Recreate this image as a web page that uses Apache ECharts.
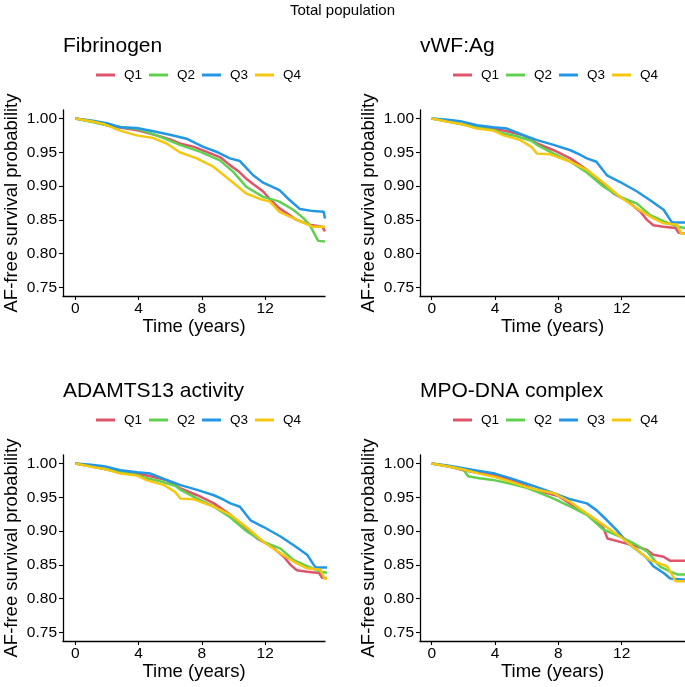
<!DOCTYPE html>
<html>
<head>
<meta charset="utf-8">
<script src="https://cdn.jsdelivr.net/npm/echarts@6/dist/echarts.min.js"></script>
<style>
  html, body { margin: 0; padding: 0; background: #fff; }
  #chart { width: 685px; height: 687px; }
</style>
</head>
<body>
<div id="chart"></div>
<script>
// ---------- DATA ----------
const mainTitle = "Total population";
const panelTitles = ["Fibrinogen", "vWF:Ag", "ADAMTS13 activity", "MPO-DNA complex"];
const groups = ["Q1", "Q2", "Q3", "Q4"];
const xTicks = [0, 4, 8, 12];
const yTicks = [0.75, 0.80, 0.85, 0.90, 0.95, 1.00];

// Fibrinogen  [time (years), survival]
const fib_Q1 = [[0,1],[1,0.996],[2,0.99],[3,0.986],[4,0.982],[5,0.976],[6,0.969],[6.6,0.963],[7.5,0.958],[8.7,0.947],[9.2,0.942],[9.77,0.931],[10.3,0.922],[10.8,0.911],[11.3,0.902],[11.87,0.892],[12.4,0.878],[12.9,0.867],[13.56,0.857],[13.98,0.85],[14.8,0.843],[15.6,0.84],[15.78,0.833]];
const fib_Q2 = [[0,1],[1,0.995],[2,0.99],[3,0.987],[4,0.984],[5,0.976],[6,0.967],[6.6,0.961],[7.87,0.951],[9.14,0.938],[9.98,0.921],[10.4,0.91],[10.8,0.899],[11.87,0.884],[12.9,0.877],[13.77,0.865],[14.4,0.853],[14.8,0.843],[15.1,0.83],[15.35,0.819],[15.78,0.818]];
const fib_Q3 = [[0,1],[1,0.997],[2,0.993],[2.82,0.987],[3.87,0.986],[4.93,0.981],[5.98,0.976],[7.03,0.97],[8.08,0.958],[9.0,0.95],[9.77,0.941],[10.4,0.937],[10.8,0.927],[11.24,0.916],[11.87,0.905],[12.9,0.894],[13.56,0.879],[14.2,0.866],[15.03,0.863],[15.7,0.862],[15.78,0.852]];
const fib_Q4 = [[0,1],[1,0.996],[1.77,0.992],[2.82,0.982],[3.87,0.975],[4.93,0.971],[5.77,0.963],[6.6,0.95],[7.67,0.941],[8.7,0.929],[9.77,0.909],[10.8,0.889],[11.66,0.881],[12.3,0.877],[12.9,0.862],[13.35,0.857],[14.2,0.848],[15.0,0.84],[15.78,0.84]];

// vWF:Ag
const vwf_Q1 = [[0,1],[1,0.996],[2,0.991],[2.86,0.987],[3.9,0.985],[4.75,0.981],[5.8,0.975],[6.65,0.963],[7.7,0.953],[8.76,0.941],[9.8,0.924],[10.86,0.902],[11.5,0.889],[12.3,0.879],[13.18,0.862],[13.6,0.85],[14.0,0.842],[14.65,0.84],[15.4,0.838],[15.6,0.831],[16,0.83]];
const vwf_Q2 = [[0,1],[1,0.996],[2,0.991],[2.86,0.987],[3.9,0.983],[4.5,0.978],[5.3,0.974],[6.3,0.967],[6.65,0.961],[7.7,0.948],[8.76,0.936],[9.8,0.92],[10.86,0.899],[11.9,0.884],[12.97,0.874],[13.8,0.857],[14.65,0.848],[15.5,0.84],[16,0.838]];
const vwf_Q3 = [[0,1],[1,0.998],[1.81,0.996],[2.86,0.99],[3.9,0.987],[4.75,0.985],[5.6,0.977],[6.65,0.968],[7.7,0.961],[8.76,0.953],[9.4,0.946],[9.8,0.941],[10.4,0.936],[11.07,0.916],[11.9,0.906],[12.97,0.892],[13.8,0.879],[14.65,0.865],[15.07,0.85],[15.2,0.846],[16,0.846]];
const vwf_Q4 = [[0,1],[1,0.995],[1.81,0.992],[2.86,0.985],[3.9,0.982],[4.54,0.975],[5.6,0.968],[6.3,0.958],[6.65,0.948],[7.5,0.947],[8.76,0.936],[9.8,0.924],[10.86,0.905],[11.9,0.884],[12.97,0.867],[13.8,0.855],[14.65,0.845],[15.5,0.843],[15.75,0.83],[16,0.83]];

// ADAMTS13 activity
const adam_Q1 = [[0,1],[1,0.996],[2,0.991],[2.86,0.987],[3.9,0.985],[4.75,0.981],[5.8,0.975],[6.65,0.963],[7.7,0.953],[8.76,0.941],[9.8,0.924],[10.86,0.902],[11.5,0.889],[12.3,0.879],[13.18,0.862],[13.6,0.85],[14.0,0.842],[14.65,0.84],[15.4,0.838],[15.6,0.831],[16,0.83]];
const adam_Q2 = [[0,1],[1,0.996],[2,0.991],[2.86,0.987],[3.9,0.983],[4.5,0.978],[5.3,0.974],[6.3,0.967],[6.65,0.961],[7.7,0.948],[8.76,0.936],[9.8,0.92],[10.86,0.899],[11.9,0.884],[12.97,0.874],[13.8,0.857],[14.65,0.848],[15.5,0.84],[16,0.838]];
const adam_Q3 = [[0,1],[1,0.998],[1.81,0.996],[2.86,0.99],[3.9,0.987],[4.75,0.985],[5.6,0.977],[6.65,0.968],[7.7,0.961],[8.76,0.953],[9.4,0.946],[9.8,0.941],[10.4,0.936],[11.07,0.916],[11.9,0.906],[12.97,0.892],[13.8,0.879],[14.65,0.865],[15.07,0.85],[15.2,0.846],[16,0.846]];
const adam_Q4 = [[0,1],[1,0.995],[1.81,0.992],[2.86,0.985],[3.9,0.982],[4.54,0.975],[5.6,0.968],[6.3,0.958],[6.65,0.948],[7.5,0.947],[8.76,0.936],[9.8,0.924],[10.86,0.905],[11.9,0.884],[12.97,0.867],[13.8,0.855],[14.65,0.845],[15.5,0.843],[15.75,0.83],[16,0.83]];

// MPO-DNA complex
const mpo_Q1 = [[0,1],[1,0.996],[2,0.99],[3,0.986],[4,0.983],[5,0.975],[6,0.966],[6.65,0.96],[8,0.952],[8.76,0.94],[9.5,0.93],[10.4,0.916],[10.86,0.904],[11.1,0.889],[11.9,0.884],[12.97,0.877],[13.6,0.872],[14.0,0.865],[14.65,0.862],[15.07,0.856],[16,0.856]];
const mpo_Q2 = [[0,1],[1,0.996],[2,0.991],[2.3,0.981],[3,0.978],[4,0.975],[5,0.97],[6,0.964],[6.65,0.958],[7.7,0.948],[8.76,0.936],[9.8,0.924],[10.86,0.902],[11.9,0.892],[12.75,0.882],[13.6,0.87],[14.4,0.848],[15.07,0.84],[15.5,0.836],[16,0.836]];
const mpo_Q3 = [[0,1],[1,0.997],[2,0.993],[3,0.989],[4,0.985],[5,0.978],[6,0.97],[6.65,0.965],[7.7,0.956],[8.76,0.947],[9.8,0.941],[10.4,0.931],[11.07,0.916],[11.7,0.901],[12.3,0.884],[12.97,0.872],[13.6,0.86],[14.0,0.848],[14.65,0.838],[15.07,0.83],[16,0.828]];
const mpo_Q4 = [[0,1],[1,0.996],[2,0.991],[3,0.985],[4,0.98],[5,0.973],[6,0.965],[6.65,0.961],[7.7,0.956],[8.76,0.943],[9.8,0.926],[10.86,0.909],[11.9,0.892],[12.97,0.872],[13.8,0.857],[14.4,0.852],[14.86,0.848],[15.2,0.835],[15.4,0.826],[16,0.826]];

const panelData = [
  [fib_Q1, fib_Q2, fib_Q3, fib_Q4],
  [vwf_Q1, vwf_Q2, vwf_Q3, vwf_Q4],
  [adam_Q1, adam_Q2, adam_Q3, adam_Q4],
  [mpo_Q1, mpo_Q2, mpo_Q3, mpo_Q4]
];

// ---------- STYLE / LAYOUT ----------
const colors = ["#DF536B", "#61D04F", "#2297E6", "#F5C710"];
const FONT = "'Liberation Sans', Arial, Helvetica, sans-serif";
const panels = [
  { left: 63,  top: 110, width: 262, xmin: -0.78, xmax: 15.78 },
  { left: 420, top: 110, width: 265, xmin: -0.74, xmax: 16.0 },
  { left: 63,  top: 455, width: 262, xmin: -0.78, xmax: 15.78 },
  { left: 420, top: 455, width: 265, xmin: -0.74, xmax: 16.0 }
];
const gridH = 186;

const chart = echarts.init(document.getElementById('chart'), null, { renderer: 'canvas' });

const title = [{
  text: mainTitle, left: 'center', top: -2,
  textStyle: { fontFamily: FONT, fontSize: 15, fontWeight: 'normal', color: '#000' }
}];
const grid = [], xAxis = [], yAxis = [], legend = [], series = [];

panels.forEach((p, i) => {
  title.push({
    text: panelTitles[i], left: p.left - 5, top: p.top - 79,
    textStyle: { fontFamily: FONT, fontSize: 21, fontWeight: 'normal', color: '#000' }
  });
  grid.push({ left: p.left, top: p.top, width: p.width, height: gridH, containLabel: false });
  xAxis.push({
    type: 'value', gridIndex: i, min: p.xmin, max: p.xmax,
    name: 'Time (years)', nameLocation: 'middle', nameGap: 19,
    nameTextStyle: { fontFamily: FONT, fontSize: 18.5, color: '#000' },
    axisLine: { show: true, onZero: false, lineStyle: { color: '#000', width: 1.3 } },
    axisTick: { show: true, length: 4, lineStyle: { color: '#000', width: 1.1 }, customValues: xTicks },
    axisLabel: { fontFamily: FONT, fontSize: 15.5, color: '#000', margin: 5, customValues: xTicks },
    splitLine: { show: false }
  });
  yAxis.push({
    type: 'value', gridIndex: i, min: 0.7375, max: 1.0125,
    name: 'AF-free survival probability', nameLocation: 'middle', nameGap: 42,
    nameTextStyle: { fontFamily: FONT, fontSize: 18.5, color: '#000' },
    axisLine: { show: true, onZero: false, lineStyle: { color: '#000', width: 1.3 } },
    axisTick: { show: true, length: 4, lineStyle: { color: '#000', width: 1.1 }, customValues: yTicks },
    axisLabel: { fontFamily: FONT, fontSize: 15.5, color: '#000', margin: 6, customValues: yTicks,
                 formatter: v => v.toFixed(2) },
    splitLine: { show: false }
  });
  legend.push({
    data: groups, left: p.left + 28, top: p.top - 47,
    icon: 'rect', itemWidth: 19, itemHeight: 3, itemGap: 7,
    textStyle: { fontFamily: FONT, fontSize: 13.5, color: '#000', padding: [0, 0, 0, 4] },
    selectedMode: false
  });
  groups.forEach((g, k) => {
    series.push({
      name: g, type: 'line', xAxisIndex: i, yAxisIndex: i,
      data: panelData[i][k], showSymbol: false, symbol: 'none',
      lineStyle: { color: colors[k], width: 2.5 }, itemStyle: { color: colors[k] },
      clip: true, animation: false, z: 2 + k
    });
  });
});

chart.setOption({
  animation: false,
  backgroundColor: '#fff',
  title, grid, xAxis, yAxis, legend, series
});
</script>
</body>
</html>
